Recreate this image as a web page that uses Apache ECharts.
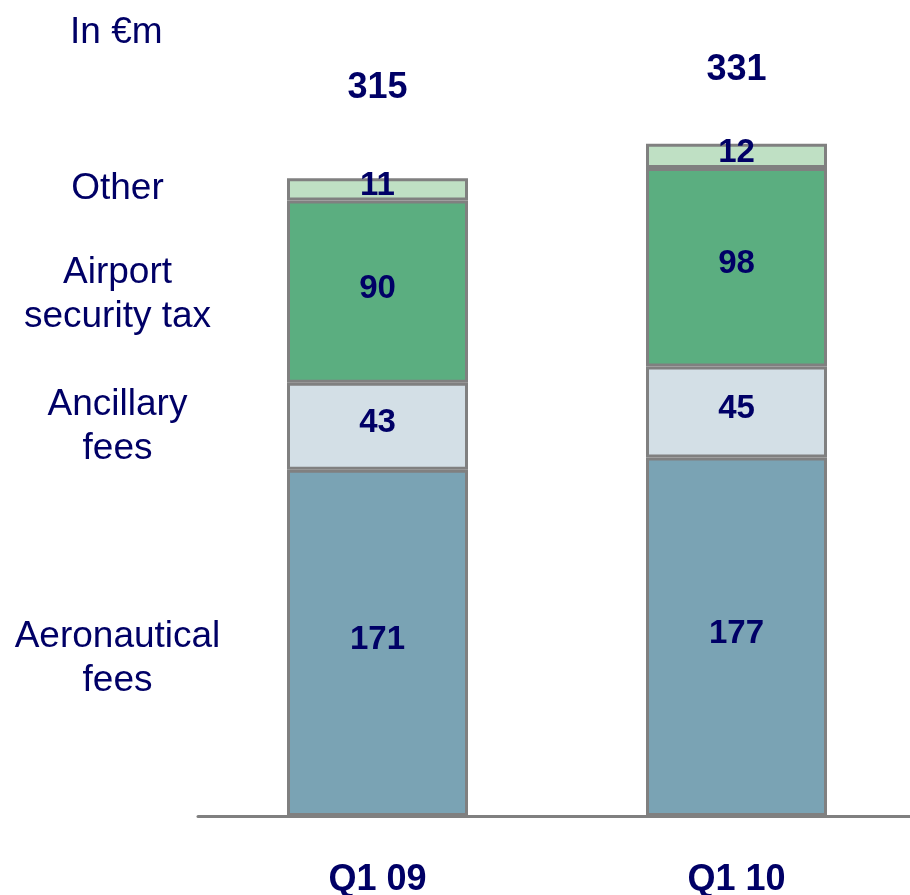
<!DOCTYPE html>
<html>
<head>
<meta charset="utf-8">
<script src="https://cdn.jsdelivr.net/npm/echarts@6/dist/echarts.min.js"></script>
<style>
  html, body { margin: 0; padding: 0; background: #fff; }
  #chart { width: 910px; height: 895px; }
</style>
</head>
<body>
<div id="chart"></div>
<script>
var quarters = ['Q1 09', 'Q1 10'];
var segmentNames = ['Aeronautical fees', 'Ancillary fees', 'Airport security tax', 'Other'];
var sideLabels = ['Aeronautical\nfees', 'Ancillary\nfees', 'Airport\nsecurity tax', 'Other'];
var aeronautical = [171, 177];
var ancillary = [43, 45];
var securityTax = [90, 98];
var other = [11, 12];
var totals = [315, 331];

var navy = '#000066';
var colors = ['#7aa3b4', '#d3dfe6', '#5bae80', '#bfe0c4'];
var sideOffsets = [16, 1, 3, 0];
var values = [aeronautical, ancillary, securityTax, other];

const chart = echarts.init(document.getElementById('chart'));

var series = [];
values.forEach(function (data, i) {
    series.push({
        name: segmentNames[i],
        type: 'bar',
        stack: 'revenue',
        barWidth: 181,
        barGap: '-100%',
        data: data,
        itemStyle: {
            color: colors[i],
            borderColor: '#808080',
            borderWidth: 3
        },
        label: {
            show: true,
            position: 'inside',
            offset: [0, -3],
            color: navy,
            fontSize: 33,
            fontWeight: 'bold',
            fontFamily: 'Liberation Sans, Arial, sans-serif'
        }
    });
});

// invisible copies carrying the row names on the left
values.forEach(function (data, i) {
    series.push({
        name: 'label-' + i,
        type: 'bar',
        stack: 'names',
        barWidth: 181,
        barGap: '-100%',
        data: data,
        silent: true,
        itemStyle: { color: 'rgba(0,0,0,0)' },
        label: {
            show: true,
            position: 'inside',
            offset: [-260, sideOffsets[i]],
            color: navy,
            fontSize: 37,
            lineHeight: 44,
            align: 'center',
            fontFamily: 'Liberation Sans, Arial, sans-serif',
            formatter: function (p) {
                return p.dataIndex === 0 ? sideLabels[i] : '';
            }
        }
    });
});

// totals above the stacks
series.push({
    name: 'Total',
    type: 'bar',
    stack: 'total',
    barWidth: 181,
    barGap: '-100%',
    silent: true,
    itemStyle: { color: 'rgba(0,0,0,0)' },
    data: totals.map(function (v, i) {
        return {
            value: v,
            label: { distance: i === 0 ? 72 : 58 }
        };
    }),
    label: {
        show: true,
        position: 'top',
        color: navy,
        fontSize: 36,
        lineHeight: 36,
        fontWeight: 'bold',
        fontFamily: 'Liberation Sans, Arial, sans-serif'
    }
});

chart.setOption({
    animation: false,
    title: {
        text: 'In €m',
        left: 70,
        top: 14,
        padding: 0,
        textStyle: {
            color: navy,
            fontSize: 37,
            fontWeight: 'normal',
            fontFamily: 'Liberation Sans, Arial, sans-serif'
        }
    },
    grid: {
        left: 198,
        top: 6,
        width: 718,
        height: 810,
        containLabel: false,
        outerBoundsMode: 'none'
    },
    xAxis: {
        type: 'category',
        data: quarters,
        axisTick: { show: false },
        axisLine: {
            lineStyle: { color: '#808080', width: 3 }
        },
        axisLabel: {
            margin: 46,
            color: navy,
            fontSize: 36,
            lineHeight: 36,
            fontWeight: 'bold',
            fontFamily: 'Liberation Sans Narrow, Liberation Sans, Arial, sans-serif'
        }
    },
    yAxis: {
        type: 'value',
        min: 0,
        max: 400,
        show: false,
        splitLine: { show: false }
    },
    series: series
});
</script>
</body>
</html>
